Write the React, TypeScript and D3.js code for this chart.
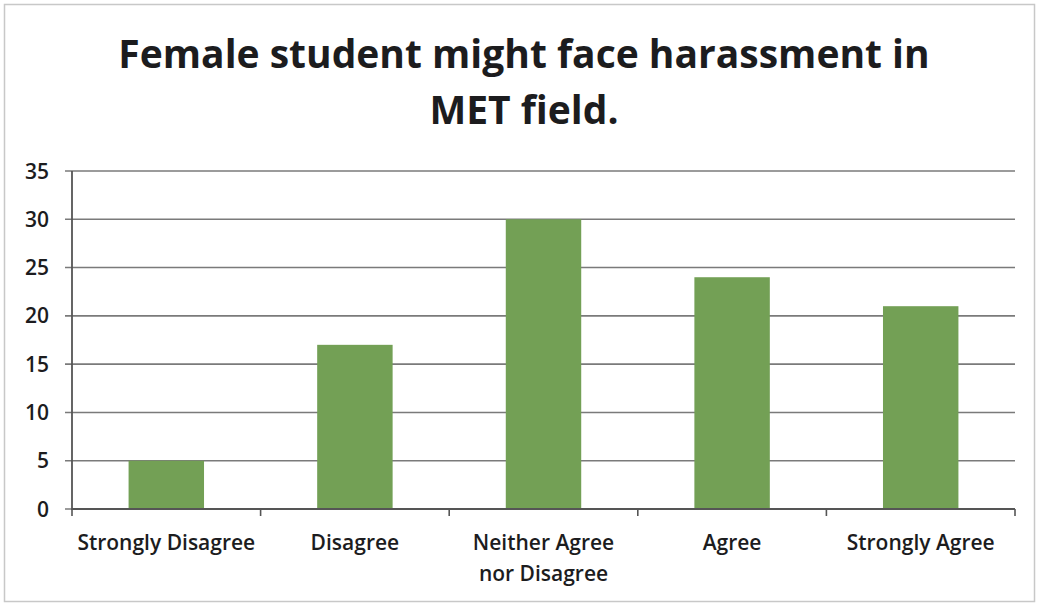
import React from "react";
import * as d3 from "d3";

const categories: string[][] = [
  ["Strongly Disagree"],
  ["Disagree"],
  ["Neither Agree", "nor Disagree"],
  ["Agree"],
  ["Strongly Agree"],
];
const values: number[] = [5, 17, 30, 24, 21];
const yTicks: number[] = [0, 5, 10, 15, 20, 25, 30, 35];
const titleLines: string[] = ["Female student might face harassment in", "MET field."];

const W = 1039;
const H = 606;
const left = 72;
const right = 1015;
const top = 171;
const bottom = 509;
const font = "'Open Sans', Lato, sans-serif";

export default function App() {
  const x = d3
    .scaleBand<number>()
    .domain(d3.range(values.length))
    .range([left, right])
    .paddingInner(0)
    .paddingOuter(0);
  const y = d3.scaleLinear().domain([0, 35]).range([bottom, top]);
  const bw = x.bandwidth() * 0.4;
  const bounds = d3.range(values.length + 1).map((i) => left + i * x.step());

  return (
    <svg
      width={W}
      height={H}
      style={{ position: "absolute", left: 0, top: 0, background: "#fff" }}
    >
      <rect x={4.5} y={4.5} width={W - 9} height={H - 9} fill="#fff" stroke="#c8c8c8" strokeWidth={1.5} />
      {titleLines.map((t, i) => (
        <text
          key={i}
          x={524}
          y={68 + i * 56}
          textAnchor="middle"
          fontFamily={font}
          fontWeight="bold"
          fontSize={39}
          fill="#1c1c1e"
        >
          {t}
        </text>
      ))}
      {yTicks.map((t) => (
        <g key={t}>
          <line x1={left - 7} x2={right} y1={y(t)} y2={y(t)} stroke="#7a7a7a" strokeWidth={1.6} />
          <text
            x={49}
            y={y(t)}
            dy="0.36em"
            textAnchor="end"
            fontFamily={font}
            fontWeight={600}
            fontSize={21}
            fill="#1c1c1e"
          >
            {t}
          </text>
        </g>
      ))}
      {values.map((v, i) => (
        <rect
          key={i}
          x={x(i)! + (x.bandwidth() - bw) / 2}
          y={y(v)}
          width={bw}
          height={y(0) - y(v)}
          fill="#73a055"
        />
      ))}
      <line x1={left} x2={left} y1={top} y2={bottom + 1} stroke="#555" strokeWidth={1.8} />
      <line x1={left} x2={right} y1={bottom} y2={bottom} stroke="#555" strokeWidth={1.8} />
      {bounds.map((b, i) => (
        <line key={i} x1={b} x2={b} y1={bottom} y2={bottom + 7} stroke="#555" strokeWidth={1.6} />
      ))}
      {categories.map((lines, i) => (
        <text
          key={i}
          x={x(i)! + x.bandwidth() / 2}
          y={550}
          textAnchor="middle"
          fontFamily={font}
          fontWeight={600}
          fontSize={21}
          fill="#1c1c1e"
        >
          {lines.map((l, j) => (
            <tspan key={j} x={x(i)! + x.bandwidth() / 2} dy={j === 0 ? 0 : 31}>
              {l}
            </tspan>
          ))}
        </text>
      ))}
    </svg>
  );
}
